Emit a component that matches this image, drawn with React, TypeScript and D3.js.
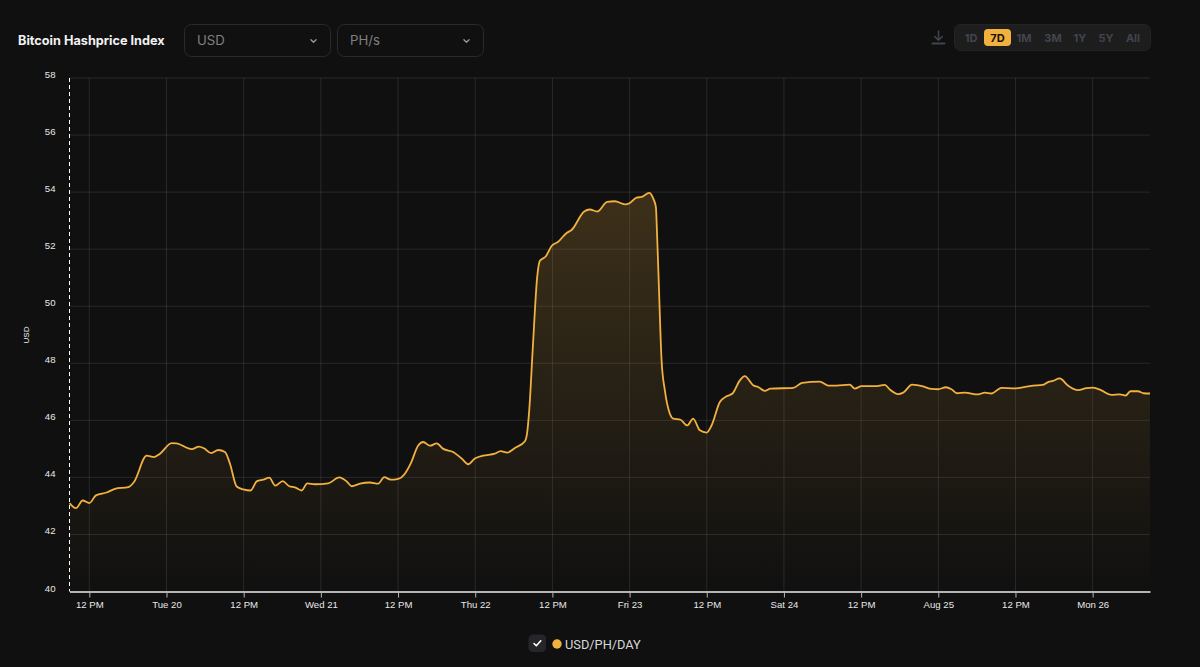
import * as d3 from 'd3';
import { useEffect, useRef } from 'react';

// hours since the first sample (Aug 19 08:55 UTC)
const hours = [
  0, 1, 2.05, 3.08, 4.12, 5.78, 7.07, 9.14, 10.03, 12, 13.14, 14.07, 15.89, 16.66, 19, 20.13, 20.91, 22.04, 23.13,
  24.17, 24.95, 25.99, 27.02, 28.17, 29.1, 30.13, 31.06, 31.99, 33.14, 34.17, 35.05, 36.1, 36.97, 38.16, 40.23,
  41.94, 43.09, 43.87, 45.16, 46.71, 48, 48.94, 49.93, 51.11, 52.15, 53.04, 54.22, 55, 56.04, 57.08, 58.11, 59.66,
  60.97, 61.99, 63.03, 64.32, 66.14, 67.03, 68.06, 69.25, 70.81, 71.17, 71.48, 72.05, 72.72, 73.14, 74.07, 74.96,
  75.98, 77.29, 78.06, 79.98, 80.91, 82.05, 83.6, 84.8, 86.35, 87.13, 88.17, 88.95, 90.13, 90.75, 91.17, 91.37,
  91.59, 92.06, 92.57, 93.35, 93.86, 95.01, 96.04, 96.97, 98.01, 99.05, 99.83, 101.12, 102.16, 103.09, 104.23, 105,
  106.29, 107.07, 108.11, 109, 112.51, 113.91, 116.66, 117.95, 119.26, 121.32, 122.1, 123.15, 125.21, 126.77,
  127.55, 128.84, 129.62, 131.01, 132.72, 134.03, 135.05, 136.25, 137.13, 138, 139.2, 141.27, 142.31, 143.35, 144.9,
  146.97, 149.81, 151.28, 152.15, 152.92, 153.96, 155.25, 156.81, 158.11, 159.14, 160.45, 162, 163.29, 164.22,
  164.95, 166.13, 167.02, 168,
];

const usdPerPh = [
  43.1, 42.92, 43.19, 43.1, 43.37, 43.47, 43.6, 43.66, 43.84, 44.76, 44.71, 44.83, 45.2, 45.19, 44.99, 45.08, 45.02,
  44.85, 44.96, 44.89, 44.48, 43.68, 43.58, 43.54, 43.86, 43.92, 43.99, 43.71, 43.87, 43.69, 43.65, 43.54, 43.79,
  43.76, 43.79, 44, 43.86, 43.69, 43.78, 43.82, 43.78, 44.01, 43.92, 43.95, 44.13, 44.48, 45.12, 45.24, 45.11, 45.19,
  45, 44.89, 44.66, 44.46, 44.66, 44.76, 44.83, 44.92, 44.87, 45.03, 45.27, 45.59, 46.35, 48.6, 51.03, 51.59, 51.75,
  52.11, 52.26, 52.57, 52.67, 53.31, 53.39, 53.32, 53.66, 53.68, 53.57, 53.62, 53.81, 53.83, 53.97, 53.78, 53.48,
  52.43, 51.03, 48.1, 47.05, 46.23, 46.06, 46.02, 45.82, 46.06, 45.65, 45.57, 45.82, 46.64, 46.84, 46.94, 47.4,
  47.55, 47.23, 47.17, 47.03, 47.11, 47.14, 47.31, 47.36, 47.22, 47.22, 47.25, 47.11, 47.2, 47.2, 47.24, 47.08,
  46.92, 46.97, 47.25, 47.19, 47.1, 47.09, 47.16, 47.09, 46.95, 46.97, 46.91, 46.97, 46.94, 47.14, 47.12, 47.22,
  47.24, 47.34, 47.38, 47.47, 47.22, 47.06, 47.13, 47.15, 47.05, 46.89, 46.91, 46.87, 47.02, 47.02, 46.95, 46.94,
];

const yTicks = [40, 42, 44, 46, 48, 50, 52, 54, 56, 58];
const ranges = ['1D', '7D', '1M', '3M', '1Y', '5Y', 'All'];
const rangeCentres = [971, 997.5, 1024, 1053, 1080, 1106, 1133];

const width = 1200;
const height = 667;
const margin = { top: 78, right: 50, bottom: 75, left: 69.5 };
const bg = '#101010';
const accent = '#f2b13f';
const axisFont = '"Liberation Sans", Arial, sans-serif';
const uiFont = 'Inter, "Noto Sans", sans-serif';

const startDate = new Date(Date.UTC(2024, 7, 19, 8, 55));
const points = hours.map((h, i) => ({
  date: new Date(startDate.getTime() + h * 3600 * 1000),
  value: usdPerPh[i],
}));

// 12 PM, then "Tue 20" for days and "Aug 25" when the week starts
const formatTick = (d: Date) => {
  if (d3.utcDay(d) < d) return d3.utcFormat('%-I %p')(d);
  if (d3.utcWeek(d) < d) return d3.utcFormat('%a %d')(d);
  return d3.utcFormat('%b %d')(d);
};

const Chevron = ({ x, y }: { x: number; y: number }) => (
  <path
    d={`M${x - 2.6},${y - 1.3} L${x},${y + 1.3} L${x + 2.6},${y - 1.3}`}
    fill='none'
    stroke='#9a9a9a'
    strokeWidth={1.3}
    strokeLinecap='round'
    strokeLinejoin='round'
  />
);

const Select = ({ x, w, label }: { x: number; w: number; label: string }) => (
  <g>
    <rect x={x + 0.5} y={24.5} width={w} height={32} rx={7} fill='#101010' stroke='#2a2a2b' />
    <text x={x + 13} y={45} fontSize={13.2} fill='#808080' fontFamily={uiFont}>
      {label}
    </text>
    <Chevron x={x + w - 16.5} y={41} />
  </g>
);

const App = () => {
  const gx = useRef<SVGGElement | null>(null);
  const gy = useRef<SVGGElement | null>(null);

  const innerW = width - margin.left - margin.right;
  const innerH = height - margin.top - margin.bottom;
  const x1 = margin.left + innerW;
  const y0 = margin.top + innerH - 0.5;

  const xScale = d3
    .scaleUtc()
    .domain([startDate, new Date(startDate.getTime() + 168 * 3600 * 1000)])
    .range([margin.left, x1]);

  const yScale = d3.scaleLinear().domain([40, 58]).range([y0, margin.top]);

  const line = d3
    .line<{ date: Date; value: number }>()
    .x((d) => xScale(d.date))
    .y((d) => yScale(d.value))
    .curve(d3.curveMonotoneX);

  const area = d3
    .area<{ date: Date; value: number }>()
    .x((d) => xScale(d.date))
    .y0(y0)
    .y1((d) => yScale(d.value))
    .curve(d3.curveMonotoneX);

  const xTicks = xScale.ticks(d3.utcHour.every(12) as d3.TimeInterval);

  useEffect(() => {
    if (!gx.current || !gy.current) return;
    const xAxis = d3
      .axisBottom(xScale)
      .tickValues(xTicks)
      .tickSizeInner(6)
      .tickSizeOuter(0)
      .tickPadding(3.5)
      .tickFormat((d) => formatTick(d as Date));
    const sx = d3.select(gx.current).call(xAxis);
    sx.select('.domain').attr('stroke', '#b5b5b5').attr('stroke-width', 2);
    sx.selectAll('.tick line').attr('stroke', '#b5b5b5');
    sx.selectAll('.tick text').attr('fill', '#e8e8e8').attr('font-size', 9.6).attr('font-family', axisFont);

    const yAxis = d3.axisLeft(yScale).tickValues(yTicks).tickSize(0).tickPadding(14);
    const sy = d3.select(gy.current).call(yAxis);
    sy.select('.domain').remove();
    sy.selectAll('.tick text')
      .attr('fill', '#e8e8e8')
      .attr('font-size', 9.6)
      .attr('font-family', axisFont)
      .attr('dy', '-0.05em');
  }, []);

  return (
    <svg width={width} height={height} style={{ position: 'absolute', left: 0, top: 0, display: 'block', background: bg }}>
      <defs>
        <linearGradient id='fill' gradientUnits='userSpaceOnUse' x1={0} x2={0} y1={193} y2={y0}>
          <stop offset='0%' stopColor={accent} stopOpacity={0.2} />
          <stop offset='100%' stopColor={accent} stopOpacity={0} />
        </linearGradient>
      </defs>

      <text x={18} y={45} fontSize={12.7} fontWeight={700} fill='#f2f2f2' fontFamily={uiFont}>
        Bitcoin Hashprice Index
      </text>
      <Select x={184} w={146} label='USD' />
      <Select x={337} w={146} label='PH/s' />

      <g fill='none' stroke='#3f444d' strokeWidth={1.5} strokeLinecap='round' strokeLinejoin='round'>
        <path d='M938.5,31 V40 M934.8,36.6 L938.5,40.2 L942.2,36.6' />
        <path d='M932.5,43.5 H944.5' strokeWidth={2} />
      </g>
      <rect x={954.5} y={24.5} width={196} height={26} rx={6} fill='#1d1d1e' stroke='#232324' />
      <rect x={984} y={29} width={27} height={17} rx={4} fill={accent} />
      {ranges.map((r, i) => (
        <text
          key={r}
          x={rangeCentres[i]}
          y={41.5}
          textAnchor='middle'
          fontSize={11}
          fontWeight={700}
          fill={r === '7D' ? '#1a1308' : '#41454d'}
          fontFamily={uiFont}
        >
          {r}
        </text>
      ))}

      <g stroke='#ffffff' strokeOpacity={0.1}>
        {yTicks.slice(1).map((t) => (
          <line key={t} x1={margin.left} x2={x1} y1={yScale(t)} y2={yScale(t)} />
        ))}
        {xTicks.map((t) => (
          <line key={+t} x1={xScale(t)} x2={xScale(t)} y1={margin.top} y2={y0} />
        ))}
      </g>

      <path d={area(points) ?? ''} fill='url(#fill)' />
      <path d={line(points) ?? ''} fill='none' stroke={accent} strokeWidth={1.8} strokeLinejoin='round' />

      <line x1={margin.left} x2={margin.left} y1={margin.top} y2={y0} stroke='#ffffff' strokeDasharray='4 3' />
      <g ref={gx} transform={`translate(0,${y0})`} />
      <g ref={gy} transform={`translate(${margin.left},0)`} />
      <text
        transform={`translate(29,335) rotate(-90)`}
        textAnchor='middle'
        fontSize={8}
        fill='#f0f0f0'
        fontFamily={axisFont}
      >
        USD
      </text>

      <rect x={528.5} y={634.5} width={17.5} height={17.5} rx={4.5} fill='#26262a' />
      <path
        d='M534,643.5 L536.3,645.8 L540.8,640.8'
        fill='none'
        stroke='#ffffff'
        strokeWidth={1.6}
        strokeLinecap='round'
        strokeLinejoin='round'
      />
      <circle cx={557} cy={644} r={4.7} fill={accent} />
      <text x={565} y={648.5} fontSize={12.8} fill='#d8d8d8' fontFamily='Roboto, sans-serif'>
        USD/PH/DAY
      </text>
    </svg>
  );
};

export default App;
